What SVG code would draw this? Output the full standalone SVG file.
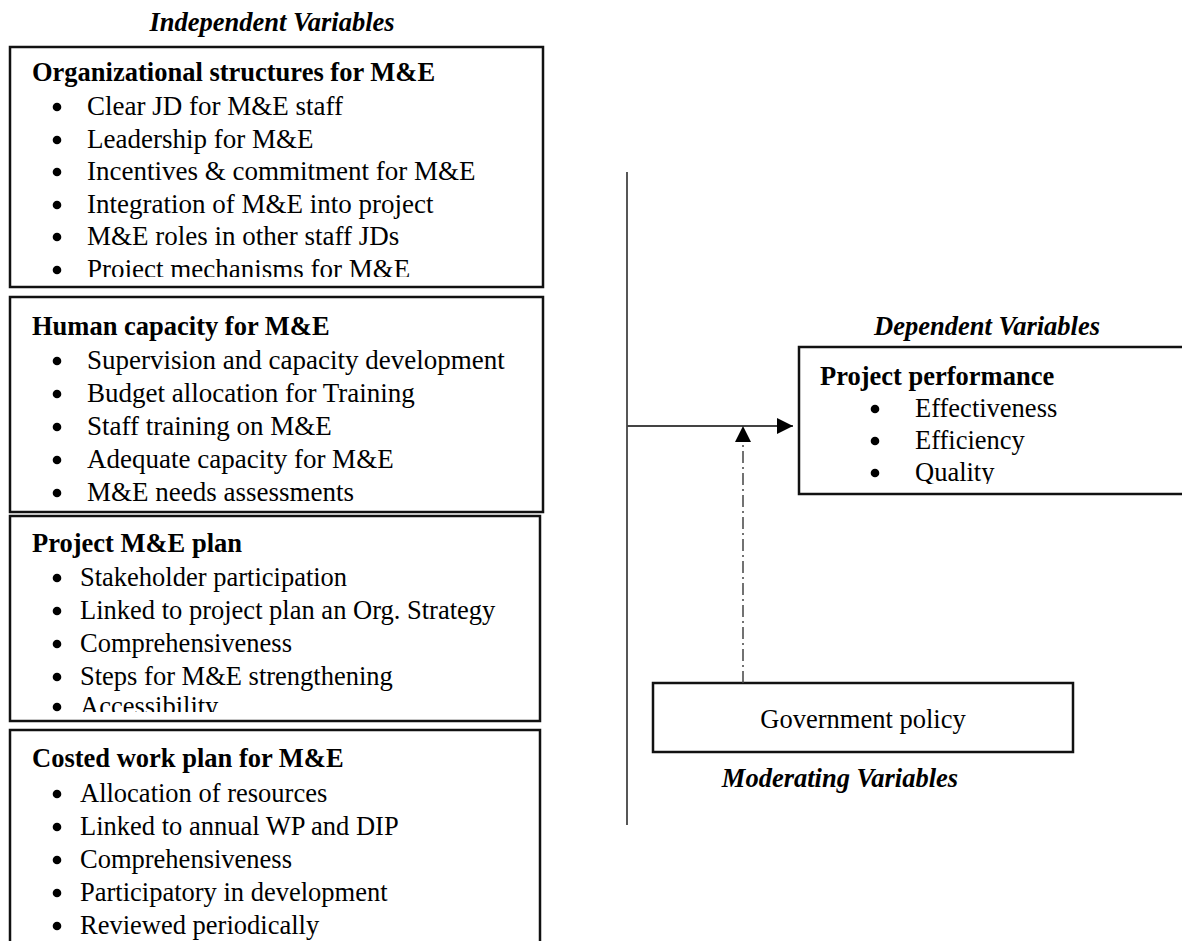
<svg xmlns="http://www.w3.org/2000/svg" width="1182" height="941" viewBox="0 0 1182 941">
<style>
text{font-family:"Liberation Serif","Times New Roman",serif;fill:#000;font-size:26.5px}
.w{font-size:27px}
.h{font-weight:bold}
.t{font-weight:bold;font-style:italic}
.box{fill:#fff;stroke:#111;stroke-width:2.5}
.ln{stroke:#444;stroke-width:1.8;fill:none}
.dd{stroke:#444;stroke-width:1.5;fill:none;stroke-dasharray:12 4 2 4}
</style>
<defs>
<clipPath id="c1"><rect x="10" y="46" width="533" height="231"/></clipPath>
<clipPath id="c3"><rect x="10" y="516" width="530" height="196"/></clipPath>
<clipPath id="cd"><rect x="799" y="347" width="400" height="137"/></clipPath>
<marker id="ah" viewBox="0 0 16 16" refX="16" refY="8" markerWidth="16" markerHeight="16" markerUnits="userSpaceOnUse" orient="auto"><path d="M0,0 L16,8 L0,16 Z" fill="#000"/></marker>
</defs>

<text class="t" x="272" y="31" text-anchor="middle">Independent Variables</text>

<g id="org">
<rect class="box" x="10" y="47" width="533" height="240"/>
<g clip-path="url(#c1)">
<text class="h" x="32" y="81">Organizational structures for M&amp;E</text>
<circle cx="57" cy="107" r="4.3"/><text class="w" x="87" y="115">Clear JD for M&amp;E staff</text>
<circle cx="57" cy="140" r="4.3"/><text class="w" x="87" y="148">Leadership for M&amp;E</text>
<circle cx="57" cy="172" r="4.3"/><text class="w" x="87" y="180">Incentives &amp; commitment for M&amp;E</text>
<circle cx="57" cy="205" r="4.3"/><text class="w" x="87" y="213">Integration of M&amp;E into project</text>
<circle cx="57" cy="237" r="4.3"/><text class="w" x="87" y="245">M&amp;E roles in other staff JDs</text>
<circle cx="57" cy="270" r="4.3"/><text class="w" x="87" y="278">Project mechanisms for M&amp;E</text>
</g>
</g>

<g id="human">
<rect class="box" x="10" y="297" width="533" height="215"/>
<text class="h" x="32" y="335">Human capacity for M&amp;E</text>
<circle cx="57" cy="361" r="4.3"/><text class="w" x="87" y="369">Supervision and capacity development</text>
<circle cx="57" cy="394" r="4.3"/><text class="w" x="87" y="402">Budget allocation for Training</text>
<circle cx="57" cy="427" r="4.3"/><text class="w" x="87" y="435">Staff training on M&amp;E</text>
<circle cx="57" cy="460" r="4.3"/><text class="w" x="87" y="468">Adequate capacity for M&amp;E</text>
<circle cx="57" cy="493" r="4.3"/><text class="w" x="87" y="501">M&amp;E needs assessments</text>
</g>

<g id="plan">
<rect class="box" x="10" y="516" width="530" height="205"/>
<g clip-path="url(#c3)">
<text class="h" x="32" y="552">Project M&amp;E plan</text>
<circle cx="57" cy="578" r="4.3"/><text x="80" y="586">Stakeholder participation</text>
<circle cx="57" cy="611" r="4.3"/><text x="80" y="619">Linked to project plan an Org. Strategy</text>
<circle cx="57" cy="644" r="4.3"/><text x="80" y="652">Comprehensiveness</text>
<circle cx="57" cy="677" r="4.3"/><text x="80" y="685">Steps for M&amp;E strengthening</text>
<circle cx="57" cy="707" r="4.3"/><text x="80" y="715">Accessibility</text>
</g>
</g>

<g id="costed">
<rect class="box" x="10" y="730" width="530" height="240"/>
<text class="h" x="32" y="767">Costed work plan for M&amp;E</text>
<circle cx="57" cy="794" r="4.3"/><text x="80" y="802">Allocation of resources</text>
<circle cx="57" cy="827" r="4.3"/><text x="80" y="835">Linked to annual WP and DIP</text>
<circle cx="57" cy="860" r="4.3"/><text x="80" y="868">Comprehensiveness</text>
<circle cx="57" cy="893" r="4.3"/><text x="80" y="901">Participatory in development</text>
<circle cx="57" cy="926" r="4.3"/><text x="80" y="934">Reviewed periodically</text>
</g>

<text class="t" x="987" y="335" text-anchor="middle">Dependent Variables</text>

<g id="performance">
<rect class="box" x="799" y="347" width="420" height="147"/>
<g clip-path="url(#cd)">
<text class="h" x="820" y="385">Project performance</text>
<circle cx="875" cy="409" r="4.3"/><text x="915" y="417">Effectiveness</text>
<circle cx="875" cy="441" r="4.3"/><text x="915" y="449">Efficiency</text>
<circle cx="875" cy="473" r="4.3"/><text x="915" y="481">Quality</text>
</g>
</g>

<g id="policy">
<rect class="box" x="653" y="683" width="420" height="69"/>
<text x="863" y="728" text-anchor="middle">Government policy</text>
</g>

<text class="t" x="840" y="787" text-anchor="middle">Moderating Variables</text>

<g id="connectors">
<line class="ln" x1="627" y1="172" x2="627" y2="825"/>
<line class="ln" x1="627" y1="426" x2="793" y2="426" marker-end="url(#ah)"/>
<line class="dd" x1="743" y1="683" x2="743" y2="426" marker-end="url(#ah)"/>
</g>
</svg>
